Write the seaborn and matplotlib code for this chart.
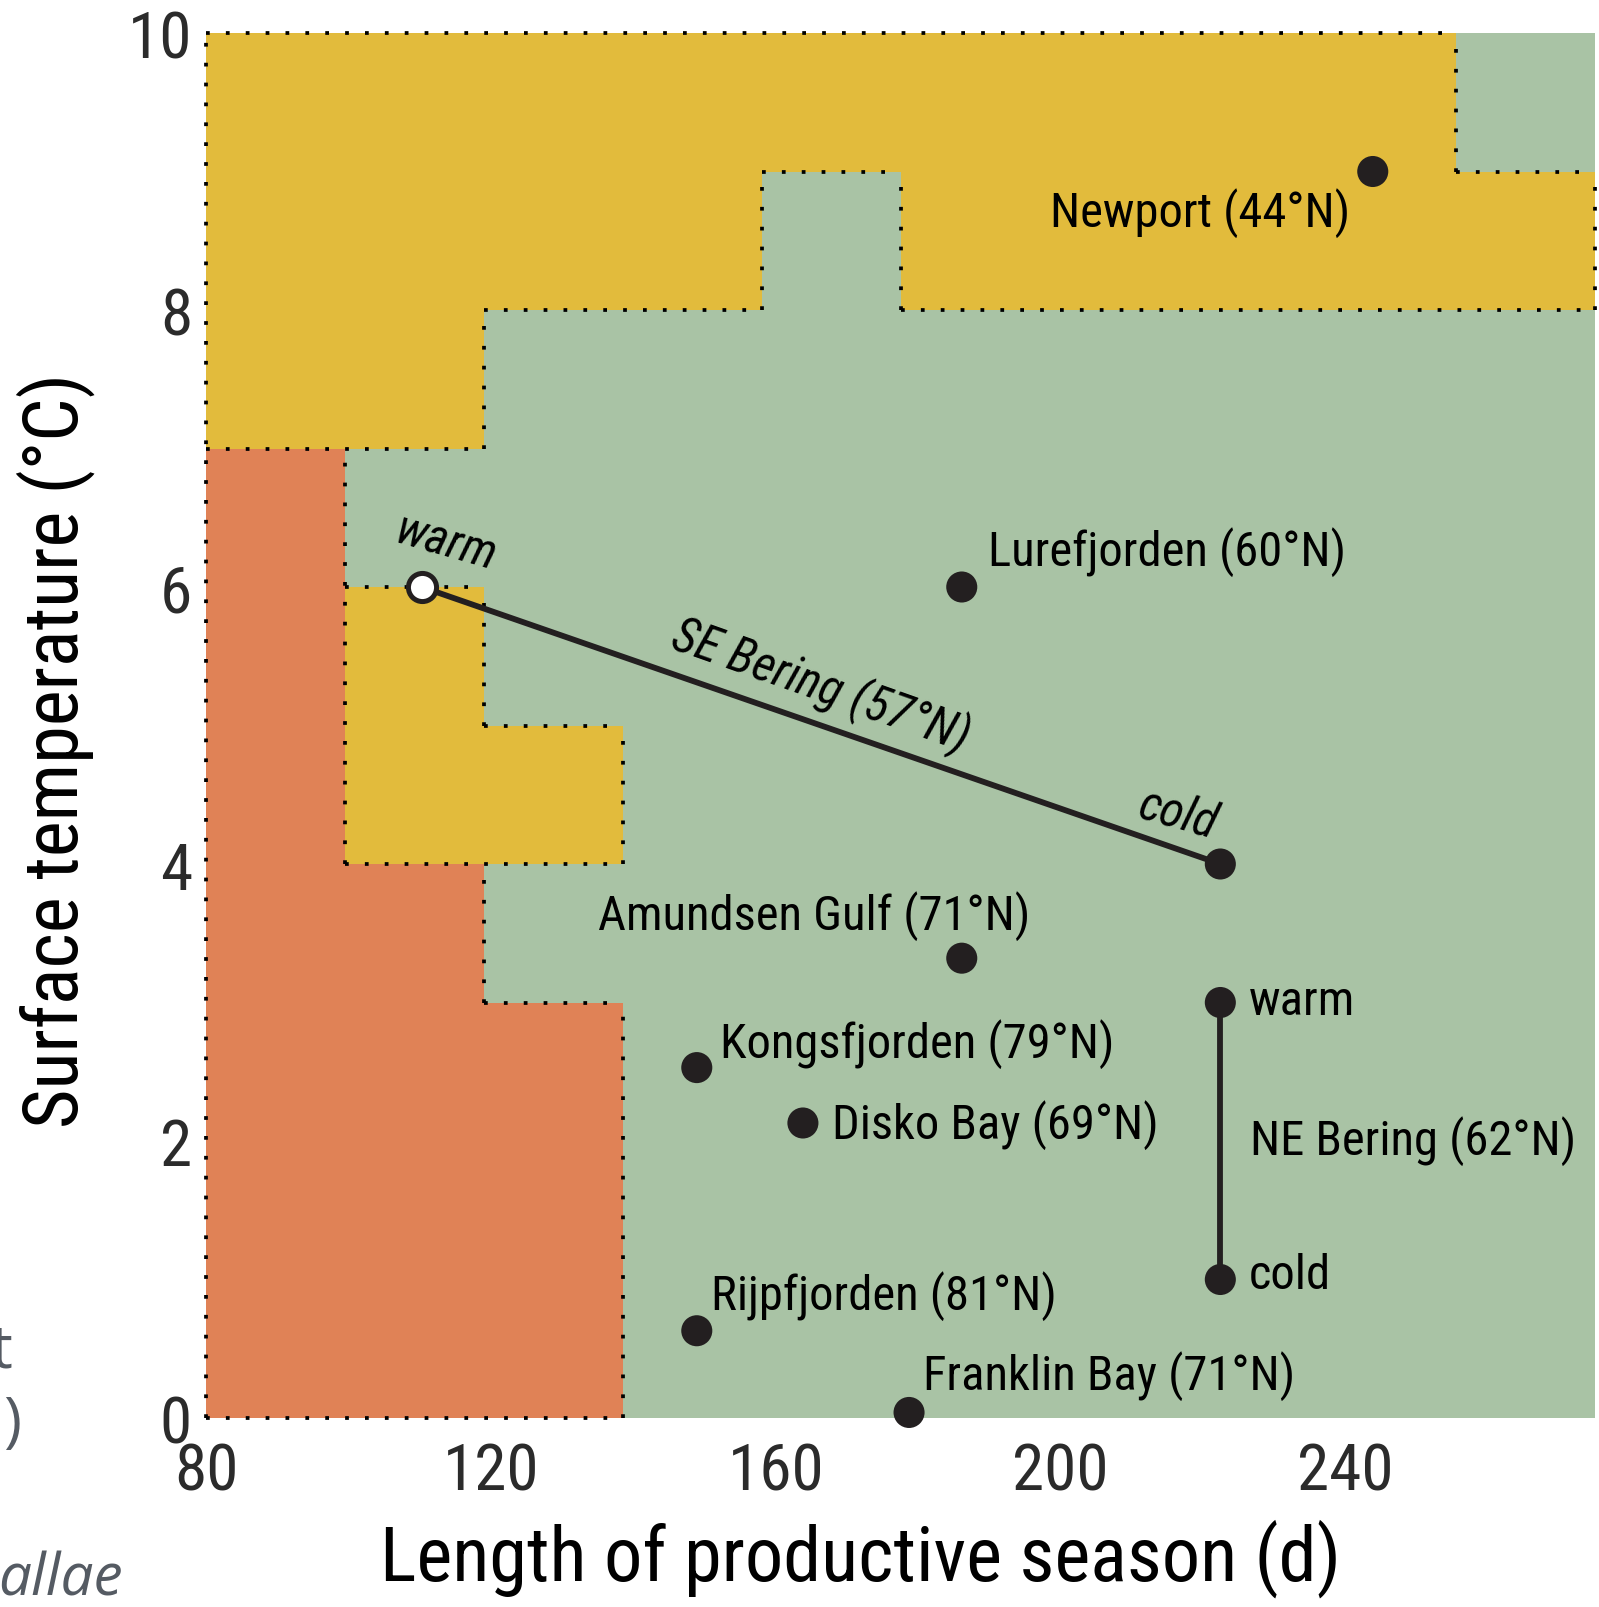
import numpy as np
import pandas as pd
import matplotlib
matplotlib.use("Agg")
import matplotlib.pyplot as plt
from matplotlib.colors import ListedColormap
import seaborn as sns

# ---------------- data ----------------
x_edges = [80, 99.5, 119, 138.5, 158, 177.5, 197, 216.5, 236, 255.5, 275]
y_edges = [0, 1, 2, 3, 4, 5, 6, 7, 8, 9, 10]
# zone class per 1 °C row (bottom row first): G green, Y yellow, O orange
zone_rows = [
    "OOOGGGGGGG",  # 0-1
    "OOOGGGGGGG",  # 1-2
    "OOOGGGGGGG",  # 2-3
    "OOGGGGGGGG",  # 3-4
    "OYYGGGGGGG",  # 4-5
    "OYGGGGGGGG",  # 5-6
    "OGGGGGGGGG",  # 6-7
    "YYGGGGGGGG",  # 7-8
    "YYYYGYYYYY",  # 8-9
    "YYYYYYYYYG",  # 9-10
]

sites = ["Newport (44°N)", "Lurefjorden (60°N)", "Amundsen Gulf (71°N)",
         "Kongsfjorden (79°N)", "Disko Bay (69°N)", "Rijpfjorden (81°N)",
         "Franklin Bay (71°N)"]
site_season = [243.8, 186.1, 186.1, 148.9, 163.8, 148.9, 178.7]
site_temp = [9.0, 6.0, 3.32, 2.53, 2.13, 0.63, 0.04]

se_bering_season = [110.3, 222.4]
se_bering_temp = [6.0, 4.0]
ne_bering_season = [222.4, 222.4]
ne_bering_temp = [3.0, 1.0]

x_ticks = [80, 120, 160, 200, 240]
y_ticks = [0, 2, 4, 6, 8, 10]

# label placement (data coords) and alignment
label_pos = [(240.6, 8.71, "right"), (189.8, 6.26, "left"), (135.0, 3.63, "left"),
             (152.2, 2.71, "left"), (167.9, 2.12, "left"), (150.9, 0.89, "left"),
             (180.7, 0.31, "left")]

# ---------------- style ----------------
sns.set_theme(style="white")
plt.rcParams["font.family"] = ["Roboto Condensed", "Liberation Sans Narrow",
                               "Liberation Sans", "DejaVu Sans"]

GREEN = "#A9C3A5"
YELLOW = "#E2BB3C"
ORANGE = "#E08256"
INK = "#231F20"
ANN = 35

fig = plt.figure(figsize=(15.99, 16.08), dpi=100)
ax = fig.add_axes([206 / 1599, 1 - 1419 / 1608, 1389 / 1599, 1385 / 1608])

code = {"G": 0, "Y": 1, "O": 2}
Z = np.array([[code[c] for c in row] for row in zone_rows])
ax.pcolormesh(x_edges, y_edges, Z, cmap=ListedColormap([GREEN, YELLOW, ORANGE]),
              vmin=-0.5, vmax=2.5, shading="flat", antialiased=False, zorder=0)

# dotted zone boundaries
def cls(j, i):
    if 0 <= j < 10 and 0 <= i < 10:
        return zone_rows[j][i]
    return "G"

vsegs = {}
for i in range(11):
    for j in range(10):
        if cls(j, i - 1) != cls(j, i):
            vsegs.setdefault(i, []).append(j)
hsegs = {}
for j in range(11):
    for i in range(10):
        if cls(j - 1, i) != cls(j, i):
            hsegs.setdefault(j, []).append(i)

def runs(idx):
    idx = sorted(idx)
    out = []
    s = idx[0]
    p = idx[0]
    for k in idx[1:]:
        if k == p + 1:
            p = k
        else:
            out.append((s, p + 1))
            s = p = k
    out.append((s, p + 1))
    return out

dot = dict(color="black", lw=2.7, linestyle=(0, (1, 4.3)), dash_capstyle="butt",
           clip_on=False, zorder=2)
for i, js in vsegs.items():
    for a, b in runs(js):
        ax.plot([x_edges[i], x_edges[i]], [y_edges[a], y_edges[b]], **dot)
for j, iis in hsegs.items():
    for a, b in runs(iis):
        ax.plot([x_edges[a], x_edges[b]], [y_edges[j], y_edges[j]], **dot)

# lines
sns.lineplot(x=se_bering_season, y=se_bering_temp, ax=ax, color=INK, lw=4.2,
             sort=False, estimator=None, zorder=3)
sns.lineplot(x=ne_bering_season, y=ne_bering_temp, ax=ax, color=INK, lw=4.2,
             sort=False, estimator=None, zorder=3)

# points
sns.scatterplot(x=site_season, y=site_temp, ax=ax, s=500, color=INK,
                edgecolor="none", zorder=5, clip_on=False)
sns.scatterplot(x=[se_bering_season[1]] + ne_bering_season,
                y=[se_bering_temp[1]] + ne_bering_temp, ax=ax, s=500, color=INK,
                edgecolor="none", zorder=5, clip_on=False)
sns.scatterplot(x=[se_bering_season[0]], y=[se_bering_temp[0]], ax=ax, s=410,
                color="white", edgecolor=INK, linewidth=3.6, zorder=6, clip_on=False)

# labels
for name, (lx, ly, ha) in zip(sites, label_pos):
    ax.text(lx, ly, name, ha=ha, va="center", fontsize=ANN, color="black", zorder=7)

ax.text(226.4, 3.01, "warm", ha="left", va="center", fontsize=ANN, color="black")
ax.text(226.6, 2.01, "NE Bering (62°N)", ha="left", va="center", fontsize=ANN, color="black")
ax.text(226.4, 1.03, "cold", ha="left", va="center", fontsize=ANN, color="black")

ax.text(113.8, 6.32, "warm", ha="center", va="center", fontsize=ANN, style="italic",
        rotation=-16, rotation_mode="anchor", color="black")
ax.text(166.3, 5.29, "SE Bering (57°N)", ha="center", va="center", fontsize=ANN,
        style="italic", rotation=-19.5, rotation_mode="anchor", color="black")
ax.text(216.4, 4.36, "cold", ha="center", va="center", fontsize=ANN, style="italic",
        rotation=-16, rotation_mode="anchor", color="black")

# axes
ax.set_xlim(80, 275)
ax.set_ylim(0, 10)
ax.set_xticks(x_ticks)
ax.set_yticks(y_ticks)
ax.tick_params(axis="both", length=0, labelsize=47, labelcolor="#2B2B2B")
ax.tick_params(axis="x", pad=16)
ax.tick_params(axis="y", pad=10)
for sp in ax.spines.values():
    sp.set_visible(False)

ax.set_xlabel("Length of productive season (d)", fontsize=55, color="black")
ax.xaxis.label.set_va("center")
ax.xaxis.set_label_coords((860 - 206) / 1389, (1419 - 1559) / 1385)
ax.set_ylabel("Surface temperature (°C)", fontsize=55, color="black")
ax.yaxis.label.set_va("center")
ax.yaxis.set_label_coords((56 - 206) / 1389, (1419 - 751) / 1385)

# fragments of the neighbouring panel, cut at the left edge
GREY = "#555B63"
fig.text(13 / 1599, 1 - 1368 / 1608, "t", ha="right", va="baseline", fontsize=44,
         color=GREY, family=["Open Sans", "DejaVu Sans"])
fig.text(21 / 1599, 1 - 1440 / 1608, ")", ha="right", va="baseline", fontsize=44,
         color=GREY, family=["Open Sans", "DejaVu Sans"])
fig.text(123 / 1599, 1 - 1596 / 1608, "allae", ha="right", va="baseline", fontsize=42,
         color=GREY, style="italic", family=["Open Sans", "DejaVu Sans"])

fig.savefig("out.png", dpi=100)
